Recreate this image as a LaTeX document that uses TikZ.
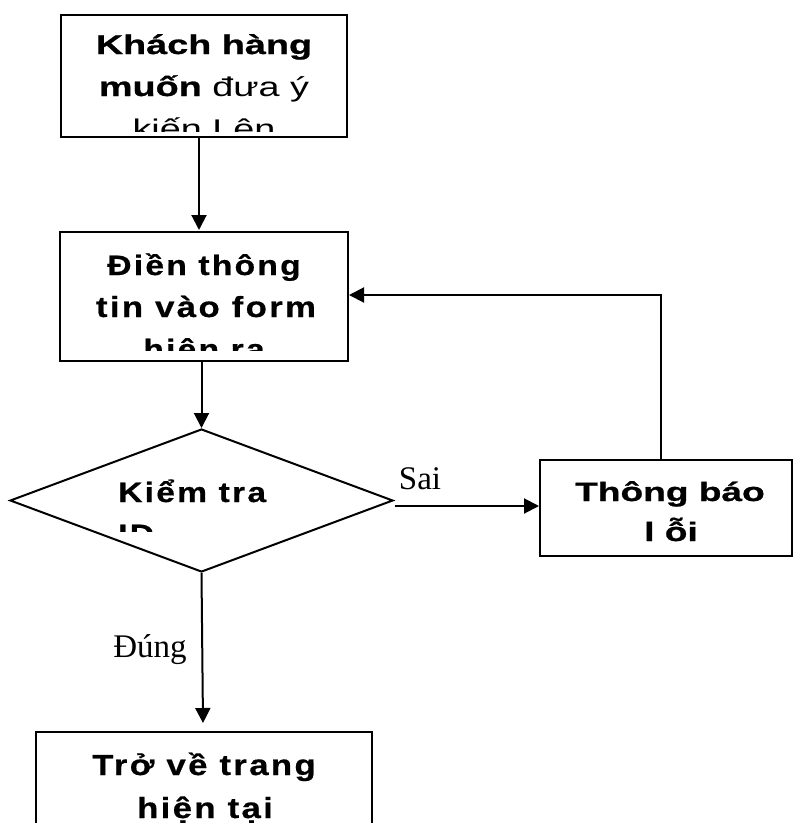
\documentclass[tikz,border=0pt]{standalone}
\usepackage{fontspec}
\setmainfont{Liberation Serif}
\newfontfamily\bxfont[FakeStretch=1.4, BoldFeatures={FakeBold=0.9}]{Liberation Sans}
\newfontfamily\bxwide[FakeStretch=1.2, LetterSpace=8, BoldFeatures={FakeBold=0.6}]{Liberation Sans}
\usetikzlibrary{arrows.meta,shapes.geometric}
\tikzset{
  frame/.style={draw, line width=2pt, inner sep=0pt},
  flow/.style={line width=2pt, -{Triangle[length=15pt,width=15pt]}},
  line/.style={anchor=base, inner sep=0pt},
  lbl/.style={anchor=base, inner sep=0pt, font=\fontsize{33}{40}\selectfont}
}
\newcommand{\fsz}[1]{\fontsize{#1}{#1}\selectfont\bxfont}
\newcommand{\fwd}[1]{\fontsize{#1}{#1}\selectfont\bxwide}
\begin{document}
\begin{tikzpicture}[x=1pt,y=-1pt]
\useasboundingbox (0,0) rectangle (793,823);

% process boxes
\node[frame, minimum width=286pt, minimum height=122pt] (ask) at (204,76) {};
\node[frame, minimum width=288pt, minimum height=129pt] (fill) at (204,296.5) {};
\node[frame, diamond, minimum width=383pt, minimum height=143pt] (check) at (201.5,500.5) {};
\node[frame, minimum width=252pt, minimum height=96pt] (err) at (666,508) {};
\node[frame, minimum width=336pt, minimum height=128pt] (back) at (204,796) {};

% box texts, cut off at the lower inner edge
\begin{scope}
  \clip (62,16) rectangle (346,131);
  \node[line] (ask1) at (204,54) {\fsz{27}\bfseries Khách hàng};
  \node[line] (ask2) at (204,96) {\fsz{27}\bfseries muốn \mdseries đưa ý};
  \node[line] (ask3) at (204,138) {\fsz{27}kiến Lên};
\end{scope}
\begin{scope}
  \clip (61,233) rectangle (347,350);
  \node[line] (fill1) at (204,275) {\fwd{28}\bfseries Điền thông};
  \node[line] (fill2) at (206,317) {\fwd{29}\bfseries tin vào form};
  \node[line] (fill3) at (204,359) {\fwd{28}\bfseries hiện ra};
\end{scope}
\begin{scope}
  \clip (100,460) rectangle (300,531);
  \node[line, anchor=base west] (chk1) at (118,502) {\fwd{28}\bfseries Kiểm tra};
  \node[line, anchor=base west] (chk2) at (118,544) {\fwd{28}\bfseries ID};
\end{scope}
\node[line] (err1) at (670,501) {\fsz{26.5}\bfseries Thông báo};
\node[line] (err2) at (671,541) {\fsz{26.5}\bfseries l ỗi};
\node[line] (back1) at (204,775) {\fwd{29}\bfseries Trở về trang};
\node[line] (back2) at (205,818) {\fwd{29}\bfseries hiện tại};

% connectors
\coordinate (a1) at (199,137);
\coordinate (a2) at (199,230);
\draw[flow] (a1) -- (a2);
\draw[flow] (fill.south -| check.north) -- (check.north);
\coordinate (s0) at (395,506);
\draw[flow] (s0) -- (s0 -| err.west);
\coordinate (fb) at (661,295);
\draw[flow] (fb |- err.north) -- (fb) -- (fb -| fill.east);
\coordinate (d1) at (203,723);
\draw[flow] (check.south) -- (d1);

% branch labels
\node[lbl] (sai) at (420,489) {Sai};
\node[lbl] (dung) at (150,657) {Đúng};
\end{tikzpicture}
\end{document}
